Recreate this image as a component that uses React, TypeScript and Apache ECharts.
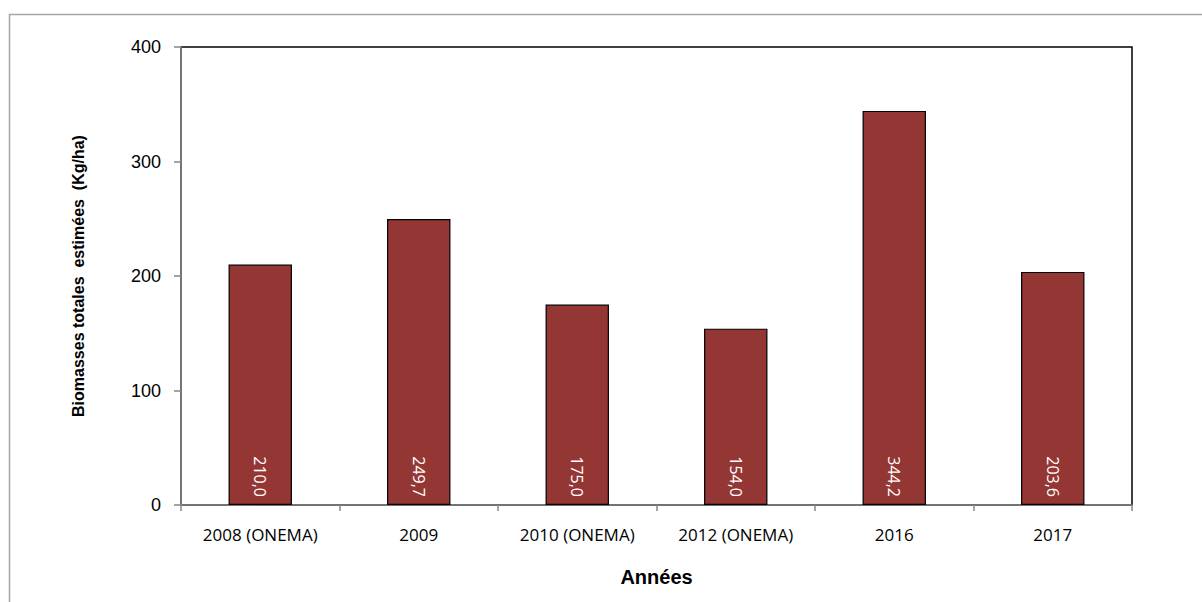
import React, { useEffect, useRef } from "react";
import * as echarts from "echarts";

const categories = ["2008 (ONEMA)", "2009", "2010 (ONEMA)", "2012 (ONEMA)", "2016", "2017"];
const biomass = [210.0, 249.7, 175.0, 154.0, 344.2, 203.6];
const yTicks = { min: 0, max: 400, interval: 100 };

export default function App() {
  const ref = useRef<HTMLDivElement>(null);
  useEffect(() => {
    document.body.style.margin = "0";
    const chart = echarts.init(ref.current!, null, { renderer: "svg" });
    chart.setOption({
      animation: false,
      backgroundColor: "#ffffff",
      graphic: [
        {
          type: "rect",
          shape: { x: 9.5, y: 14.5, width: 1220, height: 620 },
          style: { fill: "none", stroke: "#a6a6a6", lineWidth: 1.5 },
          silent: true,
        },
      ],
      grid: {
        left: 181,
        right: 1202 - 1132,
        top: 47,
        bottom: 602 - 505,
        show: true,
        borderColor: "#000000",
        borderWidth: 1.5,
        backgroundColor: "transparent",
      },
      xAxis: {
        type: "category",
        data: categories,
        name: "Années",
        nameLocation: "middle",
        nameGap: 62,
        nameTextStyle: { fontFamily: "Liberation Sans", fontWeight: "bold", fontSize: 20, color: "#000" },
        axisLine: { lineStyle: { color: "#868686", width: 1.5 } },
        axisTick: { show: true, alignWithLabel: false, length: 6, lineStyle: { color: "#868686", width: 1.5 } },
        axisLabel: { fontFamily: "Open Sans", fontSize: 17, color: "#000", margin: 21 },
      },
      yAxis: {
        type: "value",
        min: yTicks.min,
        max: yTicks.max,
        interval: yTicks.interval,
        name: "Biomasses totales  estimées  (Kg/ha)",
        nameLocation: "middle",
        nameGap: 95,
        nameTextStyle: { fontFamily: "Liberation Sans", fontWeight: "bold", fontSize: 16, color: "#000" },
        splitLine: { show: false },
        axisLine: { show: true, lineStyle: { color: "#868686", width: 1.5 } },
        axisTick: { show: true, length: 7, lineStyle: { color: "#868686", width: 1.5 } },
        axisLabel: { fontFamily: "Liberation Sans", fontSize: 18, color: "#000", margin: 20 },
      },
      series: [
        {
          type: "bar",
          data: biomass,
          barWidth: "40%",
          itemStyle: { color: "#943634", borderColor: "#000000", borderWidth: 1.2 },
          label: {
            show: true,
            position: "insideBottom",
            rotate: -90,
            align: "right",
            verticalAlign: "middle",
            distance: 8,
            color: "#ffffff",
            fontFamily: "Open Sans",
            fontSize: 16,
            formatter: (p: any) => p.value.toFixed(1).replace(".", ","),
          },
        },
      ],
    });
    return () => chart.dispose();
  }, []);
  return <div ref={ref} style={{ width: 1202, height: 602 }} />;
}
